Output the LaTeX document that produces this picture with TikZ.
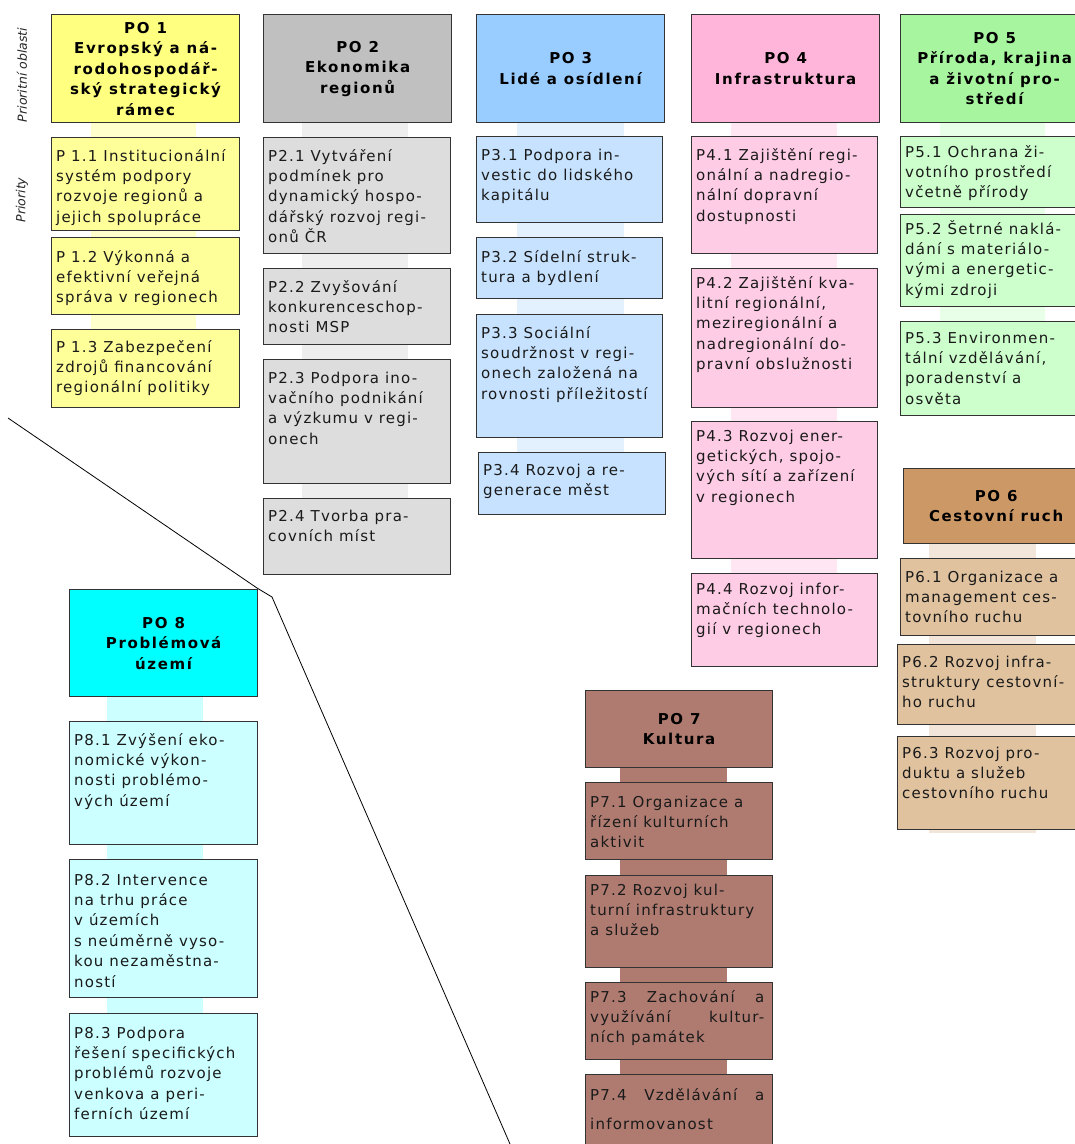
\documentclass[tikz,border=0pt]{standalone}
\usepackage{fontspec}
\setmainfont{DejaVu Sans}
\newfontfamily\bodyfont[LetterSpace=8]{DejaVu Sans}
\newfontfamily\headfont[LetterSpace=11]{DejaVu Sans}
\newfontfamily\sidefont{DejaVu Sans}
\definecolor{po1}{HTML}{FFFF80}\definecolor{p1}{HTML}{FFFF99}\definecolor{b1}{HTML}{FFFFCC}
\definecolor{po2}{HTML}{C0C0C0}\definecolor{p2}{HTML}{DDDDDD}\definecolor{b2}{HTML}{EEEEEE}
\definecolor{po3}{HTML}{99CCFF}\definecolor{p3}{HTML}{C6E2FF}\definecolor{b3}{HTML}{E3F1FF}
\definecolor{po4}{HTML}{FFB5D9}\definecolor{p4}{HTML}{FFCCE6}\definecolor{b4}{HTML}{FFE6F2}
\definecolor{po5}{HTML}{A8F5A0}\definecolor{p5}{HTML}{CCFFCC}\definecolor{b5}{HTML}{E8FFE8}
\definecolor{po6}{HTML}{CC9966}\definecolor{p6}{HTML}{E0C29F}\definecolor{b6}{HTML}{F2E5D9}
\definecolor{po7}{HTML}{AF7B70}
\definecolor{po8}{HTML}{00FFFF}\definecolor{p8}{HTML}{CCFFFF}
\definecolor{edge}{HTML}{333333}
\definecolor{ink}{HTML}{1A1A1A}
\tikzset{
  headbox/.style={draw=edge, line width=1.2pt, minimum width=188pt, minimum height=108pt,
    anchor=north west, align=center, inner sep=0pt,
    font=\headfont\bfseries\fontsize{15}{20.5}\selectfont},
  subbox/.style={draw=edge, line width=1.2pt, inner sep=0pt},
  subtxt/.style={inner sep=0pt, anchor=base west, text=ink},
  sidelabel/.style={rotate=90, inner sep=0pt, font=\sidefont\itshape\fontsize{12.5}{14}\selectfont, text=black!85}
}
\newcommand\sub[8]{%
  \node[subbox, fill=#6, minimum width=#4pt, minimum height=#5pt, anchor=north west] (#1) at (#2,#3) {};
  \node[subtxt] (#1t) at ([xshift=5pt,yshift=-#7pt]#1.north west)
    {\bodyfont\fontsize{15}{20.4}\selectfont\parbox[t]{260pt}{\raggedright #8}};}
\begin{document}
\begin{tikzpicture}[x=1pt,y=-1pt]
\useasboundingbox (0,0) rectangle (1075,1144);
\clip (0,0) rectangle (1075,1144);
\fill[white] (0,0) rectangle (1075,1144);
% bands
\fill[b1] (91,122) rectangle (196,407);
\fill[b2] (302,122) rectangle (408,498);
\fill[b3] (517,122) rectangle (624,452);
\fill[b4] (731,122) rectangle (837,573);
\fill[b5] (940,122) rectangle (1045,321);
\fill[b6] (929,543) rectangle (1036,833);
\fill[po7] (620,767) rectangle (727,1144);
\fill[p8] (107,696) rectangle (203,1013);
% side labels
\node[sidelabel] (lab1) at (22,75) {Prioritní oblasti};
\node[sidelabel] (lab2) at (22,200) {Priority};
% heads
\node[headbox, fill=po1] (po1) at (51,14) {PO 1\\Evropský a ná-\\rodohospodář-\\ský strategický\\rámec};
\node[headbox, fill=po2] (po2) at (263,14) {PO 2\\Ekonomika\\regionů};
\node[headbox, fill=po3] (po3) at (476,14) {PO 3\\Lidé a osídlení};
\node[headbox, fill=po4] (po4) at (691,14) {PO 4\\Infrastruktura};
\node[headbox, fill=po5] (po5) at (900,14) {PO 5\\Příroda, krajina\\a životní pro-\\středí};
\node[headbox, fill=po6, minimum width=185pt, minimum height=75pt] (po6) at (903,468) {PO 6\\Cestovní ruch};
\node[headbox, fill=po7, minimum width=187pt, minimum height=77pt] (po7) at (585,690) {PO 7\\Kultura};
\node[headbox, fill=po8, minimum height=107pt] (po8) at (69,589) {PO 8\\Problémová\\území};
% column 1
\sub{p11}{51}{137}{188}{93}{p1}{24}{P 1.1 Institucionální\\systém  podpory\\rozvoje regionů a\\jejich spolupráce}
\sub{p12}{51}{237}{188}{77}{p1}{25}{P 1.2 Výkonná a\\efektivní veřejná\\správa v regionech}
\sub{p13}{51}{329}{188}{78}{p1}{23}{P 1.3 Zabezpečení\\zdrojů financování\\regionální politiky}
% column 2
\sub{p21}{263}{137}{187}{116}{p2}{24}{P2.1 Vytváření\\podmínek pro\\dynamický hospo-\\dářský rozvoj regi-\\onů ČR}
\sub{p22}{263}{268}{187}{76}{p2}{24}{P2.2 Zvyšování\\konkurenceschop-\\nosti MSP}
\sub{p23}{263}{359}{187}{124}{p2}{24}{P2.3 Podpora ino-\\vačního podnikání\\a výzkumu v regi-\\onech}
\sub{p24}{263}{498}{187}{76}{p2}{23}{P2.4 Tvorba pra-\\covních míst}
% column 3
\sub{p31}{476}{136}{186}{86}{p3}{24}{P3.1 Podpora in-\\vestic do lidského\\kapitálu}
\sub{p32}{476}{237}{186}{61}{p3}{25}{P3.2 Sídelní struk-\\tura a bydlení}
\sub{p33}{476}{314}{186}{123}{p3}{24}{P3.3 Sociální\\soudržnost v regi-\\onech založená na\\rovnosti příležitostí}
\sub{p34}{478}{452}{187}{62}{p3}{23}{P3.4 Rozvoj a re-\\generace měst}
% column 4
\sub{p41}{691}{136}{186}{117}{p4}{24}{P4.1 Zajištění regi-\\onální a nadregio-\\nální dopravní\\dostupnosti}
\sub{p42}{691}{268}{186}{139}{p4}{20}{P4.2 Zajištění kva-\\litní regionální,\\meziregionální a\\nadregionální do-\\pravní obslužnosti}
\sub{p43}{691}{421}{186}{137}{p4}{20}{P4.3 Rozvoj ener-\\getických, spojo-\\vých sítí a zařízení\\v regionech}
\sub{p44}{691}{573}{186}{93}{p4}{21}{P4.4 Rozvoj infor-\\mačních technolo-\\gií v regionech}
% column 5
\sub{p51}{900}{136}{188}{71}{p5}{21}{P5.1 Ochrana ži-\\votního prostředí\\včetně přírody}
\sub{p52}{900}{214}{188}{92}{p5}{20}{P5.2 Šetrné naklá-\\dání s materiálo-\\vými a energetic-\\kými zdroji}
\sub{p53}{900}{321}{188}{94}{p5}{22}{P5.3 Environmen-\\tální vzdělávání,\\poradenství a\\osvěta}
% column 6
\sub{p61}{900}{558}{188}{77}{p6}{24}{P6.1 Organizace a\\management ces-\\tovního ruchu}
\sub{p62}{897}{644}{191}{80}{p6}{23}{P6.2 Rozvoj infra-\\struktury cestovní-\\ho ruchu}
\sub{p63}{897}{736}{191}{93}{p6}{22}{P6.3 Rozvoj pro-\\duktu a služeb\\cestovního ruchu}
% column 7
\sub{p71}{585}{782}{187}{77}{po7}{25}{P7.1 Organizace a\\řízení kulturních\\aktivit}
\sub{p72}{585}{875}{187}{92}{po7}{20}{P7.2 Rozvoj kul-\\turní infrastruktury\\a služeb}
\sub{p73}{585}{982}{187}{77}{po7}{20}{\makebox[174pt][l]{P7.3\hfill Zachování\hfill a}\\\makebox[174pt][l]{využívání\hfill kultur-}\\ních památek}
\sub{p74}{585}{1074}{187}{90}{po7}{26}{\makebox[174pt][l]{P7.4\hfill Vzdělávání\hfill a}\\[9pt]informovanost}
% column 8
\sub{p81}{69}{721}{188}{123}{p8}{24}{P8.1 Zvýšení eko-\\nomické výkon-\\nosti problémo-\\vých území}
\sub{p82}{69}{859}{188}{138}{p8}{26}{P8.2 Intervence\\na trhu práce\\v územích\\s neúměrně vyso-\\kou nezaměstna-\\ností}
\sub{p83}{69}{1013}{188}{123}{p8}{25}{P8.3 Podpora\\řešení specifických\\problémů rozvoje\\venkova a peri-\\ferních území}
% dividing line
\coordinate (d1) at (8,418);
\coordinate (d2) at (257,588);
\coordinate (d3) at (272,597);
\coordinate (d4) at (510,1144);
\draw[black, line width=0.8pt] (d1) -- (d2) -- (d3) -- (d4);
\end{tikzpicture}
\end{document}
